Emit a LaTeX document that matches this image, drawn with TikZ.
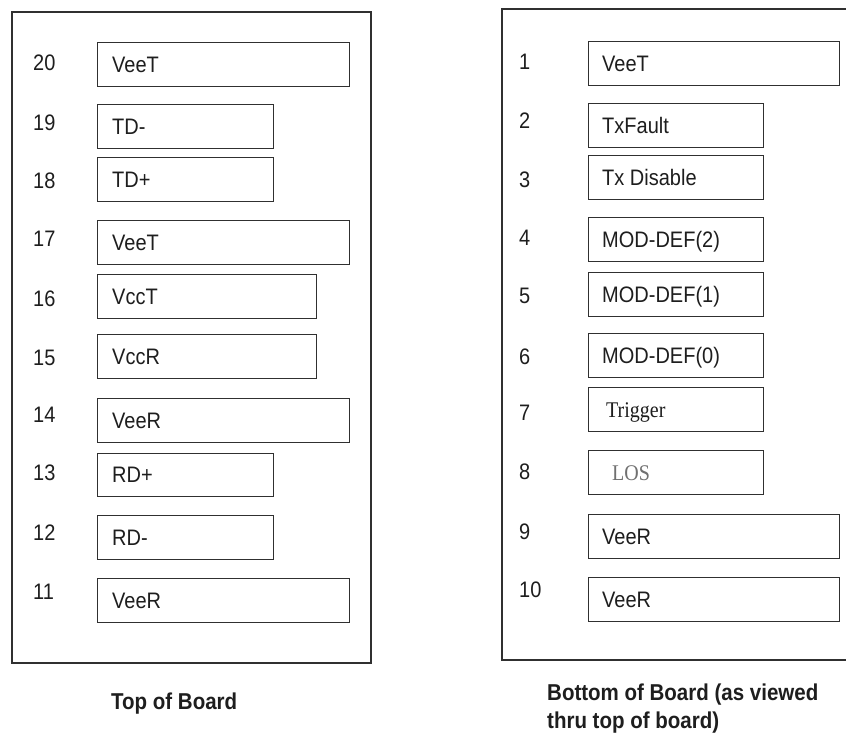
\documentclass[tikz,border=0pt]{standalone}
\usepackage{graphicx}
\usepackage{fontspec}
\setmainfont{Liberation Sans}
\newfontfamily\serifface{Liberation Serif}
\definecolor{inkline}{HTML}{303030}
\definecolor{inktext}{HTML}{1E1E1E}
\definecolor{losgray}{HTML}{707070}
\newcommand{\vstretch}[1]{\scalebox{1}[1.12]{#1}}
\tikzset{
  board/.style={draw=inkline, line width=1.5pt, anchor=north west, inner sep=0pt},
  pinbox/.style={draw=inkline, line width=1.4pt, anchor=north west, inner sep=0pt, minimum height=43.5pt},
  pintext/.style={anchor=base west, inner sep=0pt, text=inktext, font=\fontsize{20}{24}\selectfont},
  pinnum/.style={anchor=base west, inner sep=0pt, text=inktext, font=\fontsize{20}{24}\selectfont},
  caption/.style={anchor=base west, inner sep=0pt, text=inktext, font=\bfseries\fontsize{20.5}{24}\selectfont}
}
\begin{document}
\begin{tikzpicture}[x=1pt,y=-1pt]
\useasboundingbox (0,0) rectangle (846,736);
\clip (0,0) rectangle (846,736);
\fill[white] (0,0) rectangle (846,736);
% boards
\node[board, minimum width=359pt, minimum height=651pt] (topboard) at (11,11) {};
\node[board, minimum width=369pt, minimum height=651pt] (botboard) at (501,8) {};
% left side pins
\foreach \n/\y/\w/\t/\ny in {
  20/42/252/VeeT/63,
  19/104/176/TD-/123,
  18/157/176/TD+/181,
  17/220/252/VeeT/239,
  16/274/219/VccT/299,
  15/334/219/VccR/358,
  14/398/252/VeeR/415,
  13/452.5/176/RD+/473,
  12/515/176/RD-/533,
  11/578/252/VeeR/592}{
  \node[pinbox, minimum width=\w pt] (p\n) at (97,\y) {};
  \node[pintext] (t\n) at ([xshift=15pt,yshift=-8pt]p\n.west) {\vstretch{\t}};
  \node[pinnum] (n\n) at (33,\ny+7.5) {\vstretch{\n}};
}
% right side pins
\foreach \n/\y/\w/\t/\ny/\dx in {
  1/41/251/VeeT/62/14,
  2/103/175/TxFault/121/14,
  3/155/175/Tx Disable/180/14,
  4/217/175/MOD-DEF(2)/238/14,
  5/272/175/MOD-DEF(1)/296/14,
  6/333/175/MOD-DEF(0)/357/14,
  7/387/175/{\serifface Trigger}/413/18,
  8/450/175/{\serifface\color{losgray}LOS}/472/24,
  9/514/251/VeeR/532/14,
  10/577/251/VeeR/590/14}{
  \node[pinbox, minimum width=\w pt] (p\n) at (588,\y) {};
  \node[pintext] (t\n) at ([xshift=\dx pt,yshift=-8pt]p\n.west) {\vstretch{\t}};
  \node[pinnum] (n\n) at (519,\ny+7.5) {\vstretch{\n}};
}
% captions
\node[caption] (captop) at (111,709) {\vstretch{Top of Board}};
\node[caption] (capbot1) at (547,700) {\vstretch{Bottom of Board (as viewed}};
\node[caption] (capbot2) at (547,728) {\vstretch{thru top of board)}};
\end{tikzpicture}
\end{document}
